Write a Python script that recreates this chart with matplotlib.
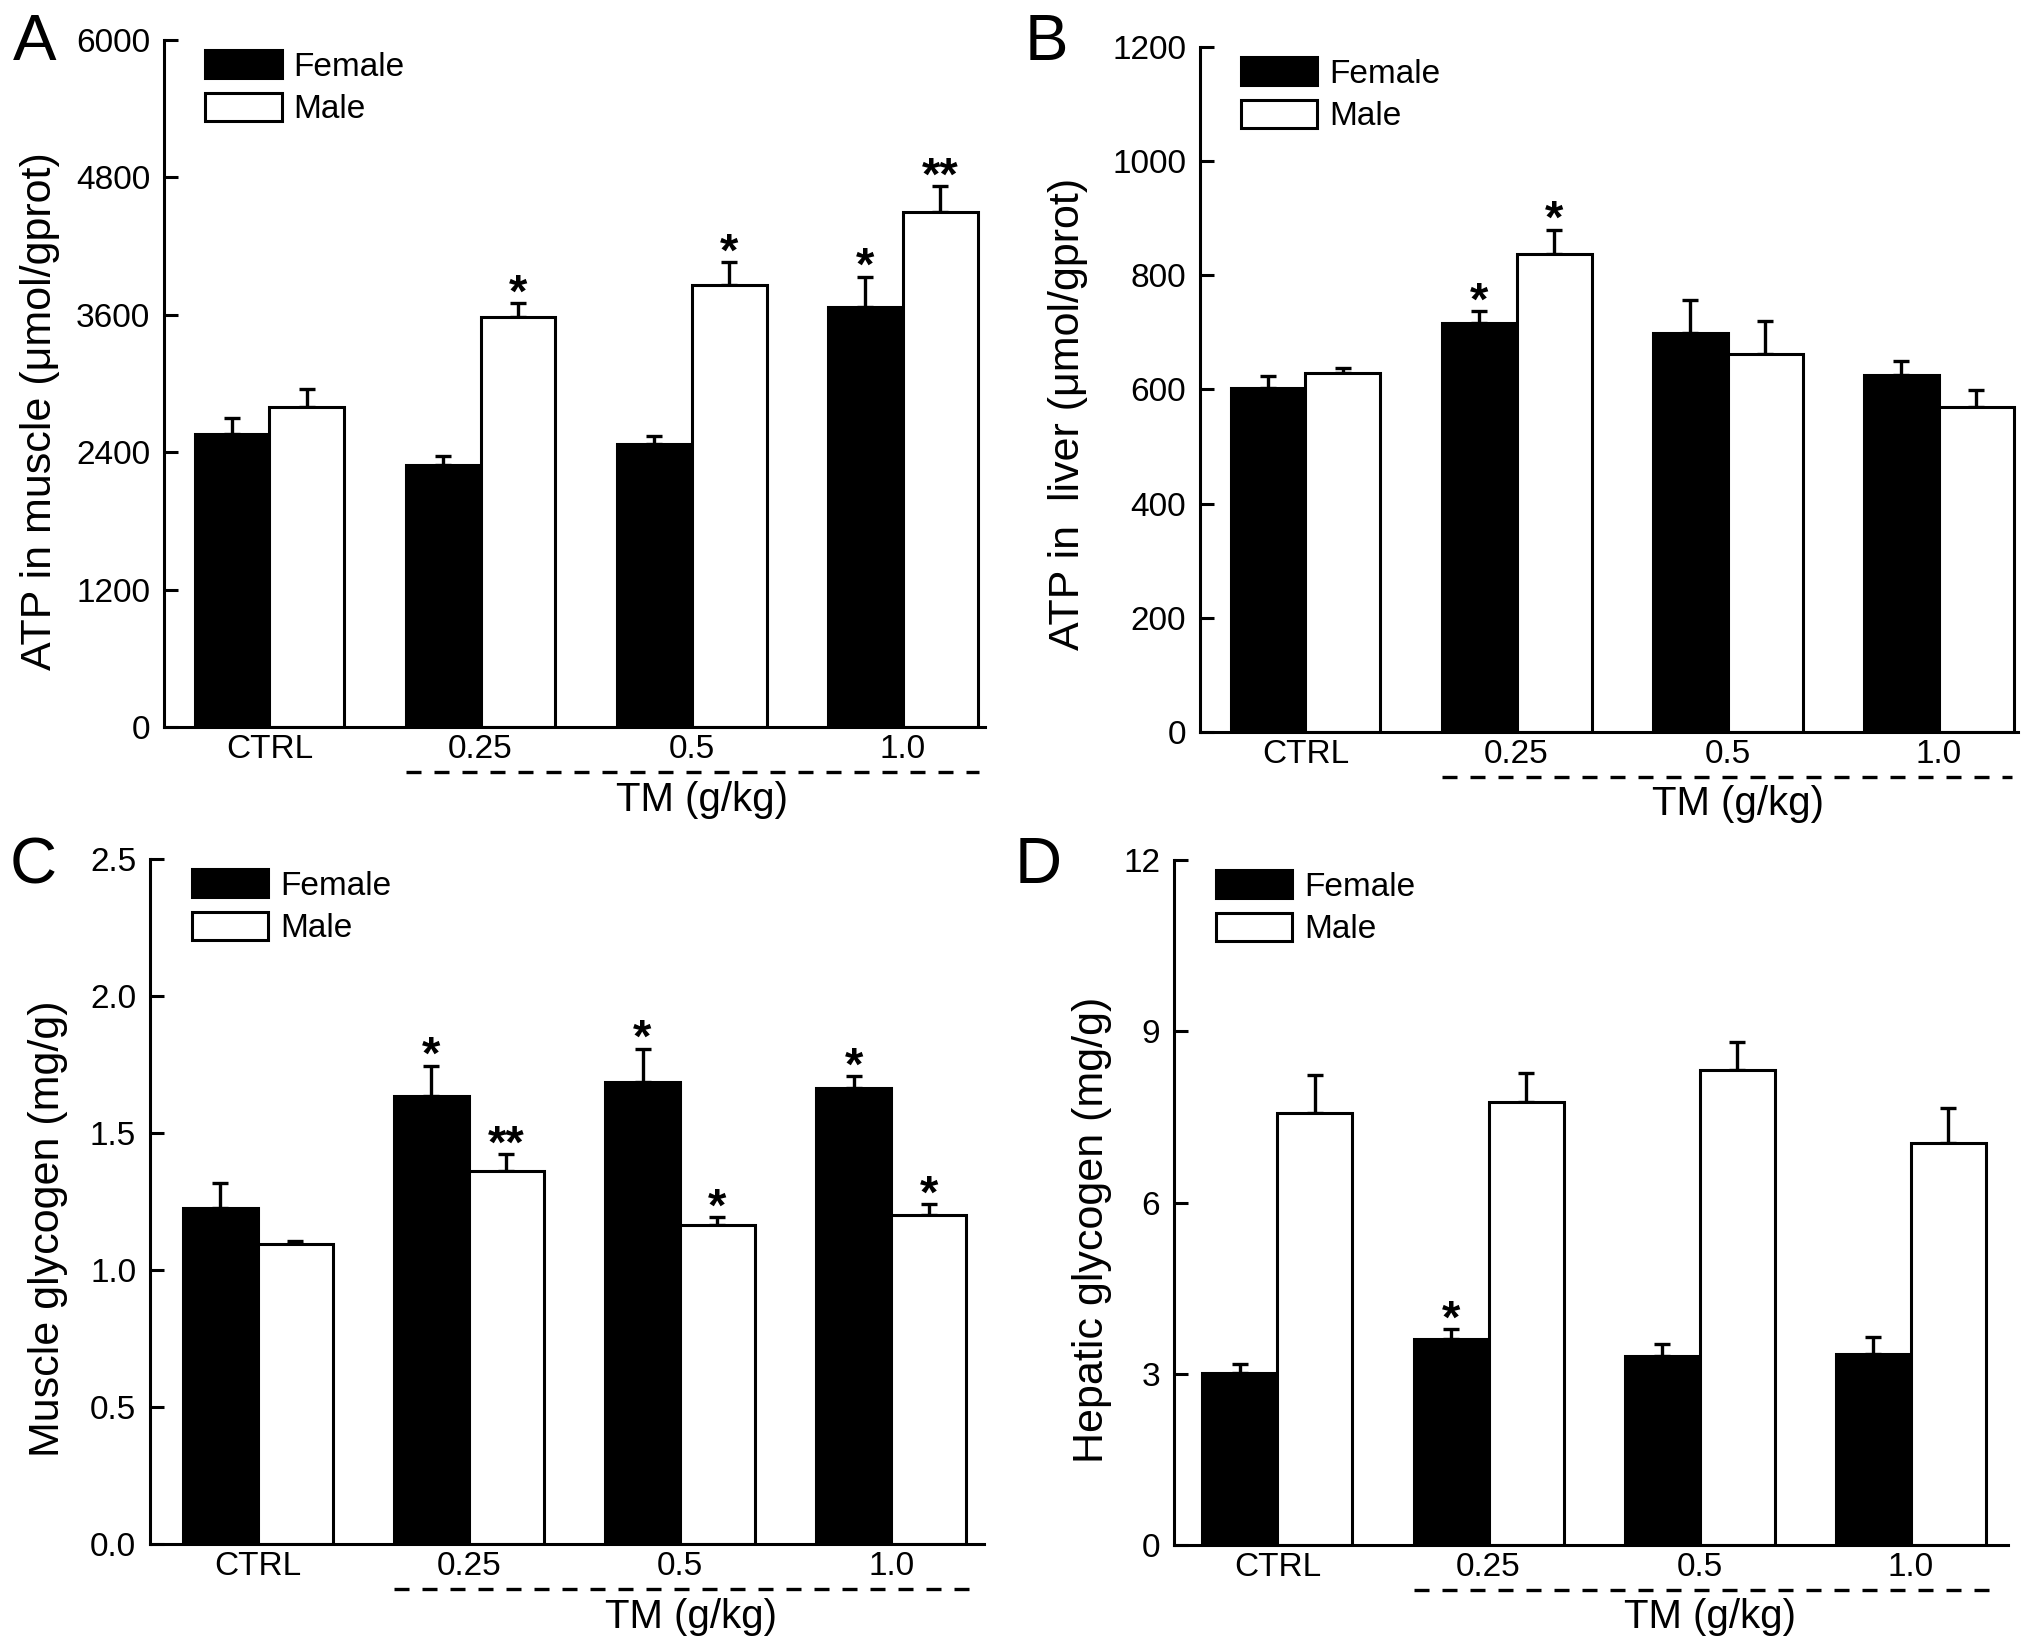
import numpy as np
import matplotlib
matplotlib.use("Agg")
import matplotlib.pyplot as plt
from matplotlib.ticker import FormatStrFormatter

plt.rcParams['font.family'] = ['Liberation Sans', 'DejaVu Sans']

groups = ['CTRL', '0.25', '0.5', '1.0']
series_names = ['Female', 'Male']

# Panel A: ATP in muscle
a_female = [2560, 2284, 2473, 3672]
a_female_err = [140, 85, 70, 260]
a_male = [2794, 3580, 3861, 4495]
a_male_err = [160, 120, 200, 230]
a_female_sig = ['', '', '', '*']
a_male_sig = ['', '*', '*', '**']

# Panel B: ATP in liver
b_female = [602, 717, 698, 625]
b_female_err = [21, 20, 59, 25]
b_male = [628, 837, 662, 570]
b_male_err = [9, 43, 58, 29]
b_female_sig = ['', '*', '', '']
b_male_sig = ['', '*', '', '']

# Panel C: Muscle glycogen
c_female = [1.226, 1.636, 1.688, 1.663]
c_female_err = [0.09, 0.11, 0.12, 0.044]
c_male = [1.094, 1.360, 1.165, 1.201]
c_male_err = [0.011, 0.063, 0.027, 0.04]
c_female_sig = ['', '*', '*', '*']
c_male_sig = ['', '**', '*', '*']

# Panel D: Hepatic glycogen
d_female = [3.02, 3.61, 3.31, 3.35]
d_female_err = [0.16, 0.17, 0.22, 0.29]
d_male = [7.57, 7.76, 8.33, 7.05]
d_male_err = [0.67, 0.51, 0.49, 0.60]
d_female_sig = ['', '*', '', '']
d_male_sig = ['', '', '', '']

W, H = 2031, 1650
fig = plt.figure(figsize=(W / 100, H / 100), dpi=100)

panels = [
    dict(letter='A', rect=[0.0807, 0.5594, 0.4043, 0.4164], xlim=(-0.5, 3.39),
         f=a_female, fe=a_female_err, m=a_male, me=a_male_err, fs=a_female_sig, ms=a_male_sig,
         ylim=(0, 6000), yticks=np.arange(0, 6001, 1200), fmt='%d',
         ylabel='ATP in muscle (\u03bcmol/gprot)', labx=-0.127, laby=0.46,
         letter_pos=(13, 60)),
    dict(letter='B', rect=[0.5908, 0.5564, 0.4028, 0.4152], xlim=(-0.5, 3.375),
         f=b_female, fe=b_female_err, m=b_male, me=b_male_err, fs=b_female_sig, ms=b_male_sig,
         ylim=(0, 1200), yticks=np.arange(0, 1201, 200), fmt='%d',
         ylabel='ATP in  liver (\u03bcmol/gprot)', labx=-0.137, laby=0.464,
         letter_pos=(1025, 60)),
    dict(letter='C', rect=[0.0739, 0.0642, 0.4106, 0.4152], xlim=(-0.51, 3.44),
         f=c_female, fe=c_female_err, m=c_male, me=c_male_err, fs=c_female_sig, ms=c_male_sig,
         ylim=(0, 2.5), yticks=np.arange(0, 2.51, 0.5), fmt='%.1f',
         ylabel='Muscle glycogen (mg/g)', labx=-0.098, laby=0.46,
         letter_pos=(10, 883)),
    dict(letter='D', rect=[0.578, 0.0636, 0.4107, 0.4152], xlim=(-0.49, 3.46),
         f=d_female, fe=d_female_err, m=d_male, me=d_male_err, fs=d_female_sig, ms=d_male_sig,
         ylim=(0, 12), yticks=np.arange(0, 12.1, 3), fmt='%d',
         ylabel='Hepatic glycogen (mg/g)', labx=-0.074, laby=0.46,
         letter_pos=(1015, 883)),
]

bw = 0.355
tick_fs = 24
label_fs = 31
star_fs = 34

for p in panels:
    ax = fig.add_axes(p['rect'])
    x = np.arange(len(groups))
    zeros = np.zeros(len(groups))
    bf = ax.bar(x - bw / 2, p['f'], bw, color='black', edgecolor='black', linewidth=2.2,
                label=series_names[0], zorder=2)
    bm = ax.bar(x + bw / 2, p['m'], bw, color='white', edgecolor='black', linewidth=2.2,
                label=series_names[1], zorder=2)
    ax.errorbar(x - bw / 2, p['f'], yerr=[zeros, p['fe']], fmt='none', ecolor='black',
                elinewidth=2.4, capsize=6, capthick=2.4, zorder=3)
    ax.errorbar(x + bw / 2, p['m'], yerr=[zeros, p['me']], fmt='none', ecolor='black',
                elinewidth=2.4, capsize=6, capthick=2.4, zorder=1)
    for xi, v, e, s in zip(x - bw / 2, p['f'], p['fe'], p['fs']):
        if s:
            ax.annotate(s, (xi, v + e), xytext=(0, -2.5), textcoords='offset points',
                        ha='center', va='baseline', fontsize=star_fs, fontweight='bold')
    for xi, v, e, s in zip(x + bw / 2, p['m'], p['me'], p['ms']):
        if s:
            ax.annotate(s, (xi, v + e), xytext=(0, -2.5), textcoords='offset points',
                        ha='center', va='baseline', fontsize=star_fs, fontweight='bold')

    ax.set_xlim(*p['xlim'])
    ax.set_ylim(*p['ylim'])
    ax.set_yticks(p['yticks'])
    ax.yaxis.set_major_formatter(FormatStrFormatter(p['fmt']))
    ax.set_xticks(x)
    ax.set_xticklabels(groups)
    for side in ['top', 'right']:
        ax.spines[side].set_visible(False)
    for side in ['left', 'bottom']:
        ax.spines[side].set_linewidth(2.2)
    ax.tick_params(axis='y', direction='in', length=10, width=2.2, pad=10, labelsize=tick_fs)
    ax.tick_params(axis='x', length=0, pad=5, labelsize=tick_fs)
    ax.set_ylabel(p['ylabel'], fontsize=label_fs)
    ax.yaxis.set_label_coords(p['labx'], p['laby'])

    # dashed bracket for TM doses
    xr = p['xlim'][1]
    ax.plot([1 - bw, xr - 0.03], [-0.066, -0.066], transform=ax.get_xaxis_transform(),
            color='black', lw=2.4, linestyle=(0, (4.5, 3.9)), clip_on=False)
    ax.text(2.05, -0.078, 'TM (g/kg)', transform=ax.get_xaxis_transform(),
            ha='center', va='top', fontsize=label_fs - 2)

    ax.legend(handles=[bf, bm], loc='upper left', bbox_to_anchor=(0.05, 0.985),
              frameon=False, fontsize=tick_fs, handlelength=2.3, handleheight=0.92,
              handletextpad=0.35, labelspacing=0.3, borderpad=0, borderaxespad=0)

    lx, ly = p['letter_pos']
    fig.text(lx / W, 1 - ly / H, p['letter'], fontsize=47, ha='left', va='baseline')

fig.savefig('out.png', dpi=100, facecolor='white')
